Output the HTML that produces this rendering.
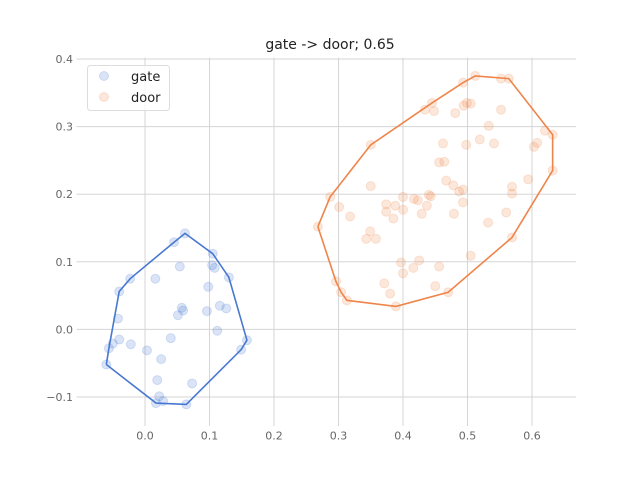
<!DOCTYPE html>
<html><head><meta charset="utf-8"><style>
body{margin:0;background:#fff}
svg text{font-family:"DejaVu Sans","Liberation Sans",sans-serif}
</style></head><body>
<svg id="chart" width="640" height="480" xmlns="http://www.w3.org/2000/svg">
<rect width="640" height="480" fill="#fff"/>
<text x="330" y="49" text-anchor="middle" font-size="14" fill="#222">gate -&gt; door; 0.65</text>
<g id="grid"></g><g id="ticks"></g><g id="marks"></g>
<g>
<rect x="87.5" y="65.5" width="82" height="45" rx="3" fill="#fff" fill-opacity="0.8" stroke="#ddd"/>
<circle cx="104" cy="76" r="4.5" fill="#4878d0" fill-opacity="0.2" stroke="#4878d0" stroke-opacity="0.2"/>
<text x="131" y="81" font-size="13" fill="#222">gate</text>
<circle cx="104" cy="97" r="4.5" fill="#ee854a" fill-opacity="0.2" stroke="#ee854a" stroke-opacity="0.2"/>
<text x="131" y="102" font-size="13" fill="#222">door</text>
</g>
</svg>
<script>
const xTicks=[0.0,0.1,0.2,0.3,0.4,0.5,0.6];
const xTickLabels=["0.0","0.1","0.2","0.3","0.4","0.5","0.6"];
const yTicks=[-0.1,0.0,0.1,0.2,0.3,0.4];
const yTickLabels=["\u22120.1","0.0","0.1","0.2","0.3","0.4"];
const gateX=[0.062,0.045,0.105,-0.023,-0.040,0.016,0.054,0.104,0.108,0.130,0.098,0.057,0.059,0.051,0.096,0.116,0.126,0.112,-0.042,-0.040,-0.050,-0.056,-0.060,-0.022,0.003,0.040,0.025,0.158,0.149,0.019,0.073,0.022,0.028,0.017,0.064];
const gateY=[0.142,0.129,0.112,0.075,0.056,0.075,0.093,0.095,0.091,0.077,0.063,0.032,0.028,0.021,0.027,0.035,0.031,-0.002,0.016,-0.015,-0.021,-0.028,-0.052,-0.022,-0.031,-0.013,-0.044,-0.016,-0.030,-0.075,-0.080,-0.099,-0.106,-0.109,-0.111];
const doorX=[0.512,0.493,0.552,0.564,0.445,0.434,0.448,0.481,0.494,0.499,0.505,0.552,0.533,0.350,0.462,0.498,0.519,0.541,0.620,0.632,0.608,0.603,0.456,0.464,0.632,0.467,0.478,0.487,0.493,0.493,0.479,0.594,0.569,0.569,0.560,0.532,0.569,0.350,0.287,0.301,0.318,0.268,0.400,0.417,0.423,0.440,0.443,0.437,0.429,0.374,0.374,0.388,0.400,0.385,0.349,0.343,0.358,0.505,0.397,0.400,0.425,0.416,0.456,0.371,0.380,0.450,0.470,0.296,0.304,0.313,0.389];
const doorY=[0.375,0.365,0.371,0.371,0.335,0.325,0.323,0.320,0.331,0.335,0.334,0.325,0.301,0.273,0.275,0.273,0.281,0.275,0.294,0.288,0.276,0.270,0.247,0.248,0.235,0.220,0.213,0.204,0.207,0.188,0.171,0.222,0.211,0.201,0.173,0.158,0.136,0.212,0.196,0.181,0.167,0.152,0.196,0.193,0.191,0.199,0.197,0.183,0.171,0.185,0.174,0.183,0.177,0.164,0.145,0.134,0.134,0.109,0.099,0.083,0.102,0.091,0.093,0.068,0.053,0.064,0.055,0.071,0.055,0.043,0.034];

const NS="http://www.w3.org/2000/svg";
const X0=80,X1=576,Y0=57.6,Y1=422.4;
const xmin=-0.1008,xmax=0.6682,ymin=-0.1376,ymax=0.4021;
const sx=v=>X0+(v-xmin)/(xmax-xmin)*(X1-X0);
const sy=v=>Y1-(v-ymin)/(ymax-ymin)*(Y1-Y0);
function mk(t,a,p){const e=document.createElementNS(NS,t);for(const k in a)e.setAttribute(k,a[k]);p.appendChild(e);return e;}
const grid=document.getElementById('grid'),ticks=document.getElementById('ticks'),marks=document.getElementById('marks');
xTicks.forEach((v,i)=>{
 const l=mk('line',{x1:sx(v),x2:sx(v),y1:Y0,y2:Y1,stroke:'#d5d5d5','stroke-width':1},grid);
 
 
 const tm=mk('line',{x1:sx(v),x2:sx(v),y1:Y1,y2:Y1+3.5,stroke:'#d5d5d5'},ticks);
 
 
 const t=mk('text',{x:sx(v),y:Y1+17,'text-anchor':'middle','font-size':11,fill:'#666'},ticks);
 t.textContent=xTickLabels[i];
 
 
});
yTicks.forEach((v,i)=>{
 const l=mk('line',{x1:X0,x2:X1,y1:sy(v),y2:sy(v),stroke:'#d5d5d5','stroke-width':1},grid);
 
 
 const tm=mk('line',{x1:X0-3.5,x2:X0,y1:sy(v),y2:sy(v),stroke:'#d5d5d5'},ticks);
 
 
 const t=mk('text',{x:X0-7,y:sy(v)+4,'text-anchor':'end','font-size':11,fill:'#666'},ticks);
 t.textContent=yTickLabels[i];
 
 
});
function hull(xs,ys){
 const p=xs.map((x,i)=>[x,ys[i]]).sort((a,b)=>a[0]-b[0]||a[1]-b[1]);
 const cr=(o,a,b)=>(a[0]-o[0])*(b[1]-o[1])-(a[1]-o[1])*(b[0]-o[0]);
 const lo=[],up=[];
 for(const q of p){while(lo.length>=2&&cr(lo[lo.length-2],lo[lo.length-1],q)<=0)lo.pop();lo.push(q);}
 for(const q of p.slice().reverse()){while(up.length>=2&&cr(up[up.length-2],up[up.length-1],q)<=0)up.pop();up.push(q);}
 return lo.slice(0,-1).concat(up.slice(0,-1));
}
function series(xs,ys,color,name){
 xs.forEach((x,i)=>{
  const c=mk('circle',{cx:sx(x),cy:sy(ys[i]),r:4.5,fill:color,'fill-opacity':0.2,stroke:color,'stroke-opacity':0.2},marks);
  
  
 });
 const h=hull(xs,ys);
 const pts=h.concat([h[0]]).map(q=>sx(q[0])+','+sy(q[1])).join(' ');
 const pl=mk('polyline',{points:pts,fill:'none',stroke:color,'stroke-width':1.6},marks);
 
 
}
series(gateX,gateY,'#4878d0','gate');
series(doorX,doorY,'#ee854a','door');
</script>
</body></html>
